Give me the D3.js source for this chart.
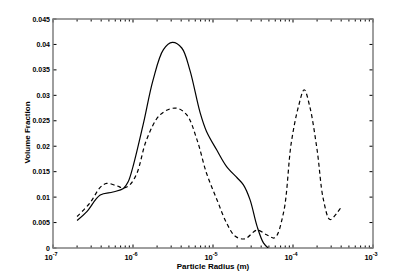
<!DOCTYPE html>
<html>
<head>
<meta charset="utf-8">
<script src="https://cdn.jsdelivr.net/npm/d3@7"></script>
<style>
  body { margin: 0; background: #fff; }
  text { font-family: "Liberation Sans", Arial, sans-serif; font-weight: bold; fill: #000; }
</style>
</head>
<body>
<script>
// solid curve
const solidRadius = [2.0e-7, 2.63e-7, 3.89e-7, 5.62e-7, 7.59e-7, 8.7e-7, 1.0e-6, 1.35e-6, 1.78e-6, 2.4e-6,
  3.1e-6, 4.07e-6, 5.13e-6, 6.9e-6, 8.3e-6, 1.12e-5, 1.48e-5, 2.0e-5, 2.4e-5, 2.9e-5, 3.55e-5, 4.27e-5, 4.9e-5];
const solidFrac = [0.0054, 0.0071, 0.0104, 0.011, 0.0117, 0.013, 0.016, 0.0245, 0.033, 0.039,
  0.0404, 0.0393, 0.035, 0.0266, 0.0229, 0.0192, 0.016, 0.0138, 0.0124, 0.0095, 0.0043, 0.001, 0];

// dashed curve
const dashRadius = [2.0e-7, 2.88e-7, 3.89e-7, 4.68e-7, 6.3e-7, 7.59e-7, 9.1e-7, 1.12e-6, 1.48e-6, 2.19e-6,
  3.39e-6, 4.68e-6, 6.3e-6, 8.3e-6, 1.12e-5, 1.48e-5, 1.9e-5, 2.5e-5, 3.55e-5, 4.68e-5, 5.9e-5,
  7.6e-5, 9.5e-5, 1.17e-4, 1.38e-4, 1.62e-4, 2.0e-4, 2.4e-4, 2.9e-4, 3.55e-4, 4.07e-4];
const dashFrac = [0.0062, 0.0088, 0.0119, 0.0127, 0.0122, 0.0118, 0.0124, 0.0147, 0.0213, 0.0262,
  0.0275, 0.0262, 0.0213, 0.0147, 0.0095, 0.0049, 0.0023, 0.0018, 0.0035, 0.0026, 0.002,
  0.0069, 0.0206, 0.0278, 0.0311, 0.0278, 0.0193, 0.0095, 0.0056, 0.0069, 0.0082];

const xMajor = [-7, -6, -5, -4, -3];
const yTicks = [0, 0.005, 0.01, 0.015, 0.02, 0.025, 0.03, 0.035, 0.04, 0.045];
const yTickLabels = ["0", "0.005", "0.01", "0.015", "0.02", "0.025", "0.03", "0.035", "0.04", "0.045"];

const w = 414, h = 276;
const pLeft = 53, pRight = 373, pTop = 19, pBottom = 248;

const svg = d3.select("body").append("svg")
  .attr("width", w)
  .attr("height", h);

const xScale = d3.scaleLog().domain([1e-7, 1e-3]).range([pLeft, pRight]);
const yScale = d3.scaleLinear().domain([0, 0.045]).range([pBottom, pTop]);

// minor ticks for log axis
let xMinor = [];
for (let e = -7; e < -3; e++) {
  for (let m = 2; m <= 9; m++) xMinor.push(m * Math.pow(10, e));
}

const frame = "#7f7f7f";
const g = svg.append("g");

// ticks, inward, on all four sides
xMinor.forEach(function (v) {
  const x = xScale(v);
  g.append("line").attr("x1", x).attr("x2", x).attr("y1", pBottom).attr("y2", pBottom - 2.5).attr("stroke", "#000").attr("stroke-width", 1);
  g.append("line").attr("x1", x).attr("x2", x).attr("y1", pTop).attr("y2", pTop + 2.5).attr("stroke", "#000").attr("stroke-width", 1);
});
xMajor.forEach(function (e) {
  const x = xScale(Math.pow(10, e));
  g.append("line").attr("x1", x).attr("x2", x).attr("y1", pBottom).attr("y2", pBottom - 3.5).attr("stroke", "#000").attr("stroke-width", 1);
  g.append("line").attr("x1", x).attr("x2", x).attr("y1", pTop).attr("y2", pTop + 3.5).attr("stroke", "#000").attr("stroke-width", 1);
  const t = svg.append("text")
    .attr("x", x - 2)
    .attr("y", pBottom + 12)
    .attr("text-anchor", "middle")
    .attr("font-size", 7.5);
  t.append("tspan").text("10");
  t.append("tspan").attr("dy", -4).attr("font-size", 5.5).text(e);
});
yTicks.forEach(function (v, i) {
  const y = yScale(v);
  g.append("line").attr("x1", pLeft).attr("x2", pLeft + 3.5).attr("y1", y).attr("y2", y).attr("stroke", "#000").attr("stroke-width", 1);
  g.append("line").attr("x1", pRight).attr("x2", pRight - 3.5).attr("y1", y).attr("y2", y).attr("stroke", "#000").attr("stroke-width", 1);
  svg.append("text")
    .attr("x", pLeft - 3)
    .attr("y", y + 2.5)
    .attr("text-anchor", "end")
    .attr("font-size", 7)
    .text(yTickLabels[i]);
});

// box
svg.append("rect")
  .attr("x", pLeft).attr("y", pTop)
  .attr("width", pRight - pLeft).attr("height", pBottom - pTop)
  .attr("fill", "none").attr("stroke", frame).attr("stroke-width", 1.5);

const line = d3.line()
  .x(function (d) { return xScale(d[0]); })
  .y(function (d) { return Math.min(yScale(d[1]), pBottom); })
  .curve(d3.curveCatmullRom.alpha(0.5));

svg.append("clipPath").attr("id", "clip")
  .append("rect").attr("x", pLeft).attr("y", pTop)
  .attr("width", pRight - pLeft).attr("height", pBottom - pTop);

svg.append("path")
  .datum(d3.zip(solidRadius, solidFrac))
  .attr("d", line)
  .attr("clip-path", "url(#clip)")
  .attr("fill", "none")
  .attr("stroke", "#000")
  .attr("stroke-width", 1.2);

svg.append("path")
  .datum(d3.zip(dashRadius, dashFrac))
  .attr("d", line)
  .attr("fill", "none")
  .attr("stroke", "#000")
  .attr("stroke-width", 1.2)
  .attr("stroke-dasharray", "4,3");

// axis titles
svg.append("text")
  .attr("text-anchor", "middle")
  .attr("x", (pLeft + pRight) / 2)
  .attr("y", 269)
  .attr("font-size", 8)
  .text("Particle Radius (m)");

svg.append("text")
  .attr("text-anchor", "middle")
  .attr("transform", "translate(30," + ((pTop + pBottom) / 2 - 1) + ")rotate(-90)")
  .attr("font-size", 8)
  .text("Volume Fraction");
</script>
</body>
</html>
